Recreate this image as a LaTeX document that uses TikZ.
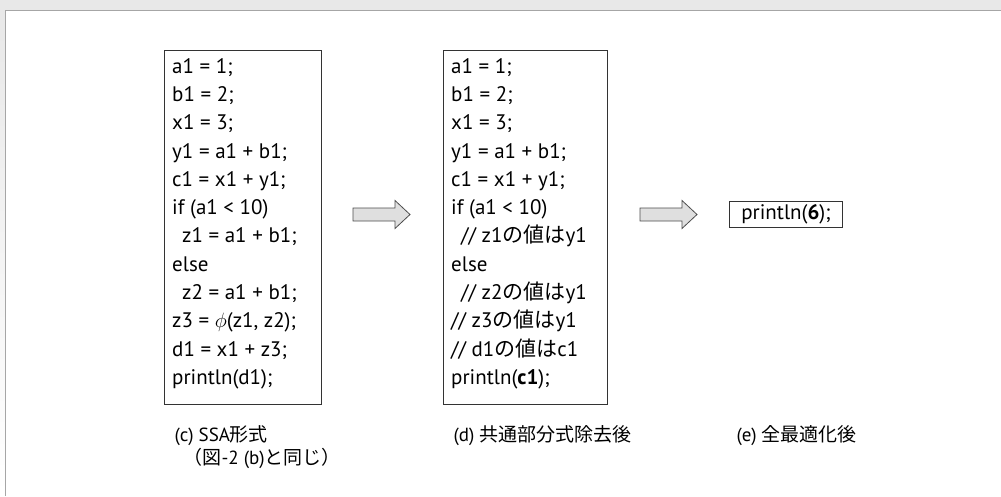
\documentclass[tikz,border=0pt]{standalone}
\usepackage{fontspec}
\setmainfont{PT Sans}
\newfontfamily\jp{Noto Sans CJK JP}
\newcommand{\J}[1]{{\jp #1}}
\begin{document}
\begin{tikzpicture}[x=1pt,y=-1pt,
  codebox/.style={draw=black!80, line width=0.9pt, anchor=north west, inner sep=0pt},
  codetext/.style={anchor=north west, align=left, inner sep=0pt,
    font={\fontsize{21}{28.3}\selectfont}},
  blockarrow/.style={draw=black!70, fill=gray!25, line width=0.8pt, line join=miter},
  captext/.style={anchor=west, align=left, font={\fontsize{19}{21}\selectfont}}]
\useasboundingbox (0,0) rectangle (1001,496);
% background frame
\fill[gray!18] (0,0) rectangle (1001,10);
\shade[top color=gray!18, bottom color=white] (0,10) rectangle (5,496);
\draw[gray!70, line width=1.2pt] (1001,10.5) -- (5.5,10.5) -- (5.5,496);
% boxes
\node[codebox, minimum width=157pt, minimum height=354pt] (c) at (164,50) {};
\node[codetext] (ctext) at (172,58) {%
a1 = 1;\\ b1 = 2;\\ x1 = 3;\\ y1 = a1 + b1;\\ c1 = x1 + y1;\\ if (a1 {\char`<} 10)\\
\hspace*{10pt}z1 = a1 + b1;\\ else\\ \hspace*{10pt}z2 = a1 + b1;\\ z3 = $\phi$(z1, z2);\\
d1 = x1 + z3;\\ println(d1);};
\node[codebox, minimum width=164pt, minimum height=354pt] (d) at (443,50) {};
\node[codetext] (dtext) at (451,58) {%
a1 = 1;\\ b1 = 2;\\ x1 = 3;\\ y1 = a1 + b1;\\ c1 = x1 + y1;\\ if (a1 {\char`<} 10)\\
\hspace*{10pt}// z1\J{の値は}y1\\ else\\ \hspace*{10pt}// z2\J{の値は}y1\\ // z3\J{の値は}y1\\
// d1\J{の値は}c1\\ println(\textbf{c1});};
\node[draw=black!80, line width=0.9pt, minimum width=113pt, minimum height=26pt, inner sep=0pt,
  font={\fontsize{21}{24}\selectfont}] (e) at (786,214) {println(\textbf{6});};
% arrows
\draw[blockarrow] (353,208) -- (395,208) -- (395,200.5) -- (410,214.5) -- (395,228.5) -- (395,221) -- (353,221) -- cycle;
\draw[blockarrow] (640,208) -- (682,208) -- (682,200.5) -- (697,214.5) -- (682,228.5) -- (682,221) -- (640,221) -- cycle;
% captions
\node[captext] (capc) at (171,436) {(c) SSA\J{形式}};
\node[captext] (capc2) at (180,458) {\J{（図}-2 (b)\J{と同じ）}};
\node[captext] (capd) at (450,436) {(d) \J{共通部分式除去後}};
\node[captext] (cape) at (733,436) {(e) \J{全最適化後}};
\end{tikzpicture}
\end{document}
